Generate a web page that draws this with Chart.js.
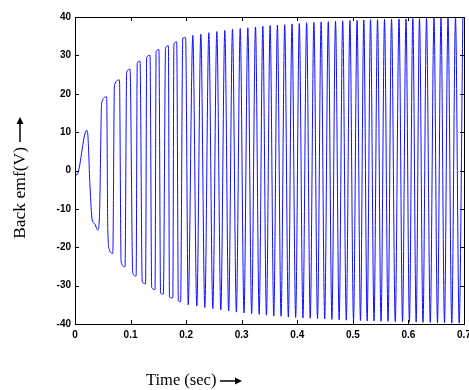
<!DOCTYPE html>
<html>
<head>
<meta charset="utf-8">
<script src="https://cdn.jsdelivr.net/npm/chart.js@4.4.0/dist/chart.umd.min.js"></script>
<style>
  html, body { margin: 0; padding: 0; background: #fff; }
  canvas { display: block; }
</style>
</head>
<body>
<canvas id="emfChart" width="469" height="390"></canvas>
<script>
// back emf trace (turning points of the waveform)
const time = [
    0.000, 0.003, 0.021, 0.023, 0.027, 0.031, 0.035, 0.041, 0.044, 0.048,
    0.057, 0.059, 0.062, 0.068, 0.071, 0.080, 0.083, 0.090, 0.093, 0.099,
    0.104, 0.110, 0.112, 0.117, 0.121, 0.127, 0.129, 0.135, 0.138, 0.144,
    0.146, 0.151, 0.154, 0.159, 0.163, 0.168, 0.170, 0.176, 0.178, 0.183,
    0.186, 0.190, 0.194, 0.199,
    0.2037, 0.2120, 0.2192, 0.2264, 0.2336, 0.2408, 0.2480, 0.2552, 0.2624, 0.2696,
    0.2765, 0.2834, 0.2904, 0.2973, 0.3041, 0.3110, 0.3179, 0.3248, 0.3314, 0.3380,
    0.3445, 0.3511, 0.3577, 0.3642, 0.3708, 0.3774, 0.3839, 0.3905, 0.3971, 0.4036,
    0.4102, 0.4168, 0.4233, 0.4299, 0.4364, 0.4429, 0.4493, 0.4558, 0.4623, 0.4688,
    0.4753, 0.4817, 0.4882, 0.4947, 0.5012, 0.5076, 0.5137, 0.5197, 0.5257, 0.5318,
    0.5381, 0.5444, 0.5507, 0.5570, 0.5633, 0.5696, 0.5763, 0.5831, 0.5894, 0.5956,
    0.6018, 0.6079, 0.6139, 0.6199, 0.6262, 0.6325, 0.6393, 0.6460, 0.6523, 0.6586,
    0.6649, 0.6712, 0.6780, 0.6847, 0.6913, 0.6979
];
const emf = [
    -0.5, -1.2, 10.5, 9.5, -4.2, -12.9, -13.8, -15.5, -12.0, 17.7,
    19.2, -15.5, -20.7, -21.6, 22.3, 23.6, -23.8, -25.1, 25.7, 26.4,
    -26.8, -27.5, 28.0, 28.5, -29.0, -29.5, 29.5, 30.0, -30.5, -31.0,
    31.0, 31.5, -32.0, -32.2, 32.0, 32.5, -33.0, -33.2, 33.0, 33.5,
    -34.0, -34.2, 34.5, 34.6,
    -35.0, 35.2, -35.3, 35.5, -35.7, 35.9, -36.0, 36.2, -36.3, 36.5,
    -36.6, 36.8, -36.9, 37.0, -37.1, 37.2, -37.3, 37.4, -37.5, 37.6,
    -37.7, 37.8, -37.9, 37.9, -38.0, 38.0, -38.2, 38.2, -38.3, 38.3,
    -38.4, 38.5, -38.5, 38.6, -38.6, 38.7, -38.7, 38.8, -38.8, 38.9,
    -38.9, 39.0, -39.0, 39.1, -39.0, 39.1, -39.1, 39.2, -39.2, 39.3,
    -39.2, 39.3, -39.3, 39.4, -39.3, 39.4, -39.4, 39.5, -39.4, 39.5,
    -39.5, 39.6, -39.5, 39.6, -39.6, 39.7, -39.6, 39.7, -39.7, 39.7,
    -39.7, 39.8, -39.8, 39.8, -39.8, 39.8
];

const xTicks = [0, 0.1, 0.2, 0.3, 0.4, 0.5, 0.6, 0.7];
const xTickLabels = ['0', '0.1', '0.2', '0.3', '0.4', '0.5', '0.6', '0.7'];
const yTicks = [-40, -30, -20, -10, 0, 10, 20, 30, 40];
const yTickLabels = ['-40', '-30', '-20', '-10', '0', '10', '20', '30', '40'];

const xTitle = 'Time (sec)';
const yTitle = 'Back emf(V)';

const tickFont = { family: 'Liberation Sans', size: 10, weight: 'bold' };

function arrow(ctx, x0, y0, x1, y1) {
    // shaft plus filled head, pointing from (x0,y0) to (x1,y1)
    const ang = Math.atan2(y1 - y0, x1 - x0);
    const hl = 7, hw = 3.5;
    const bx = x1 - hl * Math.cos(ang), by = y1 - hl * Math.sin(ang);
    ctx.beginPath();
    ctx.moveTo(x0, y0);
    ctx.lineTo(bx, by);
    ctx.lineWidth = 1.5;
    ctx.stroke();
    ctx.beginPath();
    ctx.moveTo(x1, y1);
    ctx.lineTo(bx + hw * Math.sin(ang), by - hw * Math.cos(ang));
    ctx.lineTo(bx - hw * Math.sin(ang), by + hw * Math.cos(ang));
    ctx.closePath();
    ctx.fill();
}

// MATLAB-like box with inward ticks on all four sides, plus both axis titles
const boxPlugin = {
    id: 'box',
    afterDraw(chart) {
        const { ctx, chartArea: a, scales } = chart;
        const len = 4;
        ctx.save();
        ctx.strokeStyle = '#000';
        ctx.lineWidth = 1;
        ctx.strokeRect(Math.round(a.left) + 0.5, Math.round(a.top) + 0.5,
            Math.round(a.right - a.left), Math.round(a.bottom - a.top));
        ctx.beginPath();
        xTicks.forEach(v => {
            const px = Math.round(scales.x.getPixelForValue(v)) + 0.5;
            ctx.moveTo(px, a.bottom); ctx.lineTo(px, a.bottom - len);
            ctx.moveTo(px, a.top); ctx.lineTo(px, a.top + len);
        });
        yTicks.forEach(v => {
            const py = Math.round(scales.y.getPixelForValue(v)) + 0.5;
            ctx.moveTo(a.left, py); ctx.lineTo(a.left + len, py);
            ctx.moveTo(a.right, py); ctx.lineTo(a.right - len, py);
        });
        ctx.stroke();

        ctx.fillStyle = '#000';
        ctx.textBaseline = 'middle';

        // x title
        ctx.font = '16.5px "Liberation Serif"';
        ctx.textAlign = 'left';
        ctx.fillText(xTitle, 146, 381);
        arrow(ctx, 220, 381, 242, 381);

        // y title, rotated
        ctx.save();
        ctx.translate(20, 0);
        ctx.rotate(-Math.PI / 2);
        ctx.font = '17.5px "Liberation Serif"';
        ctx.textAlign = 'right';
        ctx.fillText(yTitle, -147, 0);
        ctx.restore();
        arrow(ctx, 20, 142, 20, 117);
        ctx.restore();
    }
};

new Chart(document.getElementById('emfChart'), {
    type: 'line',
    data: {
        datasets: [{
            data: time.map((t, i) => ({ x: t, y: emf[i] })),
            borderColor: '#1010ff',
            borderWidth: 1,
            pointRadius: 0,
            cubicInterpolationMode: 'monotone',
            fill: false
        }]
    },
    options: {
        responsive: false,
        animation: false,
        layout: { padding: { top: 17, right: 5, left: 0, bottom: 0 } },
        plugins: { legend: { display: false }, tooltip: { enabled: false } },
        scales: {
            x: {
                type: 'linear',
                min: 0,
                max: 0.7,
                afterBuildTicks(scale) { scale.ticks = xTicks.map(v => ({ value: v })); },
                afterFit(scale) { scale.height = 66; scale.paddingRight = 0; scale.paddingLeft = 0; },
                grid: { display: false, drawTicks: false },
                border: { display: false },
                ticks: {
                    color: '#000',
                    font: tickFont,
                    padding: 5,
                    maxRotation: 0,
                    autoSkip: false,
                    callback: (v, i) => xTickLabels[i]
                }
            },
            y: {
                min: -40,
                max: 40,
                afterBuildTicks(scale) { scale.ticks = yTicks.map(v => ({ value: v })); },
                afterFit(scale) { scale.width = 75; },
                grid: { display: false, drawTicks: false },
                border: { display: false },
                ticks: {
                    color: '#000',
                    font: tickFont,
                    padding: 4,
                    autoSkip: false,
                    callback: (v, i) => yTickLabels[i]
                }
            }
        }
    },
    plugins: [boxPlugin]
});
</script>
</body>
</html>
